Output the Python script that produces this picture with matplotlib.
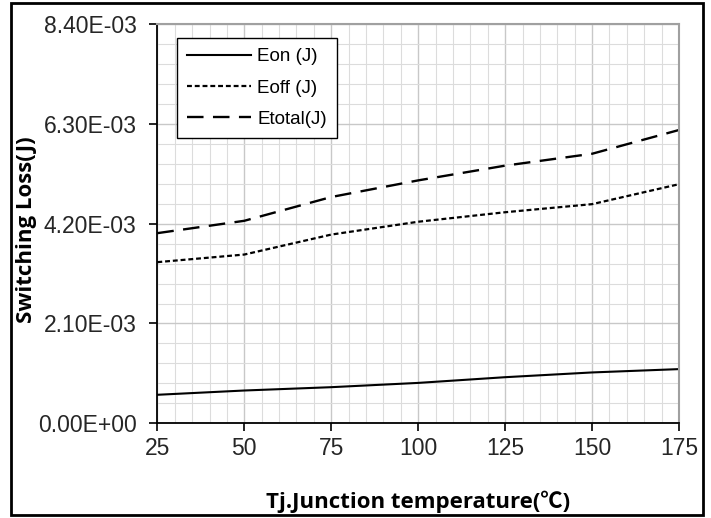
import matplotlib
matplotlib.use('Agg')
from matplotlib import pyplot as plt
from matplotlib.patches import Rectangle
from matplotlib.ticker import MultipleLocator, FixedLocator

# temperature points (C)
temps = [25, 50, 75, 100, 125, 150, 175]

# switching losses (J)
eon = [0.60e-3, 0.69e-3, 0.76e-3, 0.85e-3, 0.97e-3, 1.07e-3, 1.14e-3]
eoff = [3.39e-3, 3.55e-3, 3.97e-3, 4.24e-3, 4.44e-3, 4.61e-3, 5.03e-3]
etotal = [4.00e-3, 4.26e-3, 4.76e-3, 5.11e-3, 5.42e-3, 5.67e-3, 6.17e-3]

y_ticks = [0.0, 2.1e-3, 4.2e-3, 6.3e-3, 8.4e-3]
y_labels = ['0.00E+00', '2.10E-03', '4.20E-03', '6.30E-03', '8.40E-03']
x_ticks = [25, 50, 75, 100, 125, 150, 175]

fig = plt.figure(figsize=(7.11, 5.18), dpi=100)
ax = fig.add_axes([0.2213, 0.1828, 0.7337, 0.7709])

ax.plot(temps, eon, color='black', linewidth=1.5, label='Eon (J)')
ax.plot(temps, eoff, color='black', linewidth=1.6, linestyle=(0, (2.2, 1.3)), label='Eoff (J)')
ax.plot(temps, etotal, color='black', linewidth=1.7, linestyle=(0, (7, 4)), label='Etotal(J)')

ax.set_xlim(25, 175)
ax.set_ylim(0, 8.4e-3)
ax.xaxis.set_major_locator(FixedLocator(x_ticks))
ax.xaxis.set_minor_locator(MultipleLocator(5))
ax.set_yticks(y_ticks)
ax.set_yticklabels(y_labels)
ax.yaxis.set_minor_locator(MultipleLocator(0.42e-3))

# grid like excel
ax.grid(which='minor', color='#dcdcdc', linewidth=0.8)
ax.grid(which='major', color='#c8c8c8', linewidth=1.0)
ax.set_axisbelow(True)

for lab in ax.get_xticklabels() + ax.get_yticklabels():
    lab.set_fontfamily('Liberation Sans')
    lab.set_fontsize(16.5)
    lab.set_color('#262626')
ax.tick_params(which='major', direction='out', length=6, width=1.2, color='black', pad=4)
ax.tick_params(axis='y', which='major', pad=9)
ax.tick_params(which='minor', length=0)

ax.spines['left'].set_color('black')
ax.spines['bottom'].set_color('black')
ax.spines['left'].set_linewidth(1.3)
ax.spines['bottom'].set_linewidth(1.3)
ax.spines['top'].set_color('#a0a0a0')
ax.spines['right'].set_color('#a0a0a0')
ax.spines['top'].set_linewidth(1.5)
ax.spines['right'].set_linewidth(1.5)

ax.set_xlabel('Tj.Junction temperature(℃)', fontsize=16, fontweight='bold',
              family=['Open Sans', 'Noto Sans CJK KR', 'DejaVu Sans'], labelpad=22)
ax.set_ylabel('Switching Loss(J)', fontsize=16, fontweight='bold',
              family=['Open Sans', 'DejaVu Sans'])
ax.yaxis.set_label_coords(-0.2306, 0.484)

leg = ax.legend(loc='upper left', bbox_to_anchor=(0.037, 0.965), frameon=True, fancybox=False,
                edgecolor='black', framealpha=1, handlelength=3.4, handletextpad=0.35,
                labelspacing=0.75, borderpad=0.55, borderaxespad=0,
                prop={'family': 'Liberation Sans', 'size': 13.5})
leg.get_frame().set_linewidth(1.0)

# outer border around the whole picture
fig.patches.append(Rectangle((11 / 711, 3 / 518), 692 / 711, 512 / 518, transform=fig.transFigure,
                             fill=False, edgecolor='black', linewidth=2))

plt.savefig('out.png', dpi=100)
plt.close()
